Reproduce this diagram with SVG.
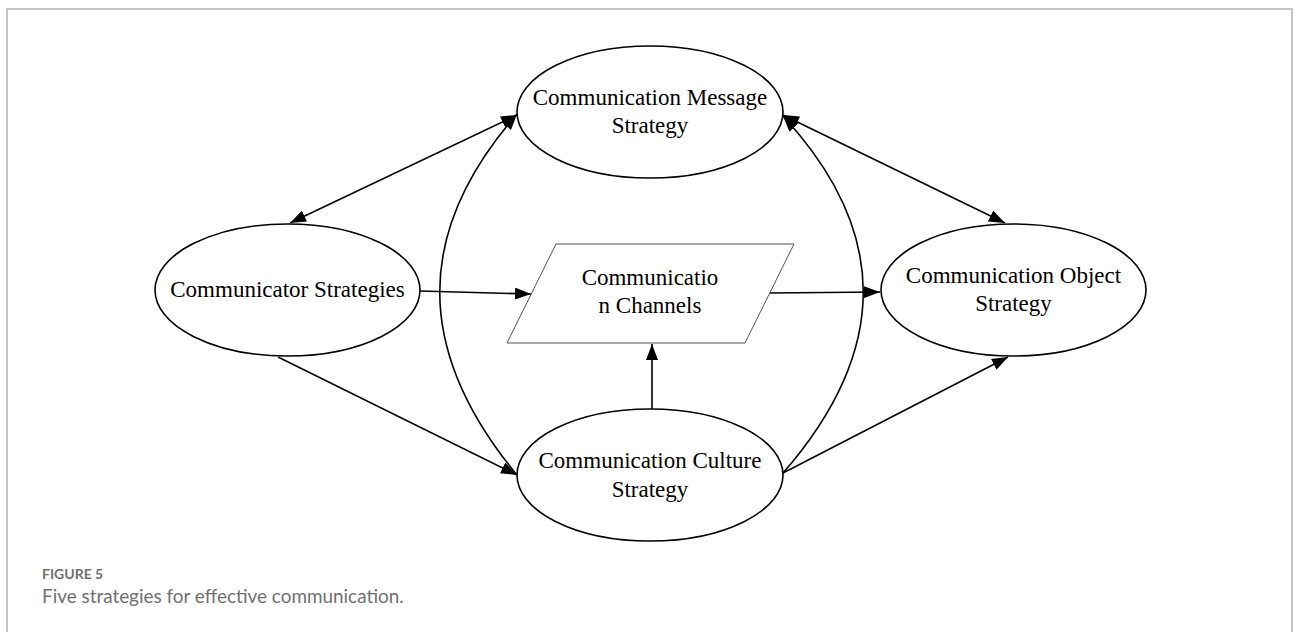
<svg xmlns="http://www.w3.org/2000/svg" width="1294" height="632" viewBox="0 0 1294 632">
<style>
.node ellipse{fill:#fff;stroke:#000;stroke-width:1.6}
.par{fill:#fff;stroke:#555;stroke-width:1}
text.lbl{font-family:"Liberation Serif","Times New Roman",Times,"DejaVu Serif",serif;font-size:23px;fill:#000;text-anchor:middle}
.edge{fill:none;stroke:#000;stroke-width:1.6}
.cap1{font-family:Lato,"Open Sans",sans-serif;font-size:14px;font-weight:bold;fill:#707070}
.cap2{font-family:Lato,"Open Sans",sans-serif;font-size:18.9px;fill:#707070}
</style>
<defs>
<marker id="ah" viewBox="0 0 16 12" refX="16" refY="6" markerWidth="16" markerHeight="12" markerUnits="userSpaceOnUse" orient="auto-start-reverse">
<path d="M0,0 L16,6 L0,12 Z" fill="#000"/>
</marker>
</defs>
<rect width="1294" height="632" fill="#fff"/>
<path d="M7,640 L7,9 L1292,9 L1292,640" fill="none" stroke="#c4c4c4" stroke-width="2"/>
<g id="connectors">
<line class="edge" x1="290" y1="223" x2="517" y2="115" marker-start="url(#ah)" marker-end="url(#ah)"/>
<line class="edge" x1="420" y1="291" x2="531" y2="294" marker-end="url(#ah)"/>
<line class="edge" x1="768" y1="293" x2="880" y2="292" marker-end="url(#ah)"/>
<line class="edge" x1="652" y1="409" x2="652" y2="344" marker-end="url(#ah)"/>
<line class="edge" x1="278" y1="357" x2="517" y2="475" marker-end="url(#ah)"/>
<line class="edge" x1="783" y1="473" x2="1008" y2="357" marker-end="url(#ah)"/>
<line class="edge" x1="783" y1="115" x2="1005" y2="223" marker-start="url(#ah)" marker-end="url(#ah)"/>
<path class="edge" d="M517,475 C414,350 414,232 517,114" marker-end="url(#ah)"/>
<path class="edge" d="M783,473 C890,350 890,232 783,116" marker-end="url(#ah)"/>
</g>
<g id="message" class="node">
<ellipse cx="650" cy="112" rx="133" ry="66"/>
<text class="lbl" font-family="Liberation Serif, serif" x="650" y="105">Communication Message</text>
<text class="lbl" font-family="Liberation Serif, serif" x="650" y="133">Strategy</text>
</g>
<g id="communicator" class="node">
<ellipse cx="287.5" cy="290" rx="132.5" ry="66"/>
<text class="lbl" font-family="Liberation Serif, serif" x="287.5" y="297">Communicator Strategies</text>
</g>
<g id="channels">
<polygon class="par" points="556,244 794,244 745,343 507,343"/>
<text class="lbl" font-family="Liberation Serif, serif" x="650" y="285">Communicatio</text>
<text class="lbl" font-family="Liberation Serif, serif" x="650" y="313">n Channels</text>
</g>
<g id="object" class="node">
<ellipse cx="1013.5" cy="290" rx="132.5" ry="66"/>
<text class="lbl" font-family="Liberation Serif, serif" x="1013.5" y="283">Communication Object</text>
<text class="lbl" font-family="Liberation Serif, serif" x="1013.5" y="311">Strategy</text>
</g>
<g id="culture" class="node">
<ellipse cx="650" cy="475" rx="133" ry="66"/>
<text class="lbl" font-family="Liberation Serif, serif" x="650" y="468">Communication Culture</text>
<text class="lbl" font-family="Liberation Serif, serif" x="650" y="497">Strategy</text>
</g>
<text class="cap1" x="42" y="579">FIGURE 5</text>
<text class="cap2" x="42" y="603">Five strategies for effective communication.</text>
</svg>
